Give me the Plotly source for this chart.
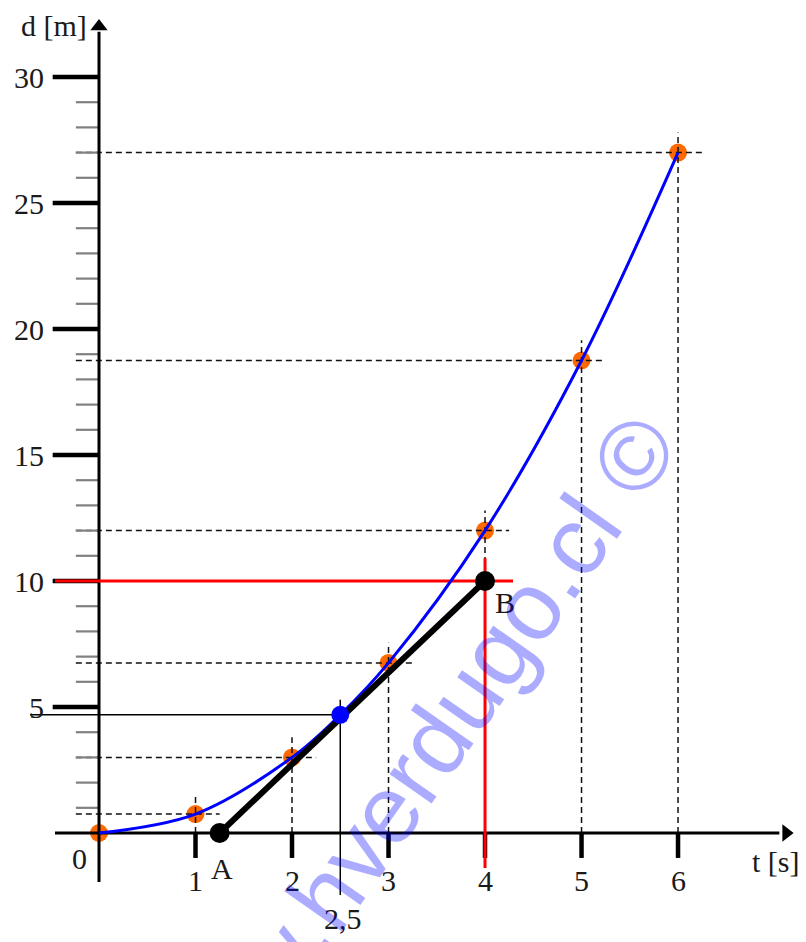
import plotly.graph_objects as go

# measured points of the curve d(t)
T_POINTS = [0, 1, 2, 3, 4, 5, 6]
D_POINTS = [0, 0.75, 3, 6.75, 12, 18.75, 27]

# point where the tangent touches the curve
T_MARK = 2.5
D_MARK = 4.69

# tangent segment A -> B
T_TANGENT = [1.25, 4]
D_TANGENT = [0, 10]
LABELS_TANGENT = ["A", "B"]

# red reading lines
T_RED = 4
D_RED = 10

# axis ticks
T_TICKS = [1, 2, 3, 4, 5, 6]
T_TICK_LABELS = ["1", "2", "3", "4", "5", "6"]
D_MINOR = list(range(1, 31))
D_MAJOR = [5, 10, 15, 20, 25, 30]
D_TICK_LABELS = ["5", "10", "15", "20", "25", "30"]

SERIF = "Liberation Serif, Times New Roman, serif"
TEXT_COLOR = "#1a1a1a"


def segments(pairs):
    xs, ys = [], []
    for (x0, y0, x1, y1) in pairs:
        xs += [x0, x1, None]
        ys += [y0, y1, None]
    return xs, ys


def line_trace(pairs, color, width, dash="solid"):
    xs, ys = segments(pairs)
    return go.Scatter(
        x=xs, y=ys, mode="lines",
        line={"color": color, "width": width, "dash": dash},
        hoverinfo="skip",
    )


fig = go.Figure()

# orange data points (below the dashed cross lines)
fig.add_trace(
    go.Scatter(
        x=T_POINTS, y=D_POINTS, mode="markers",
        marker={"color": "#ff6a00", "size": 18},
        hoverinfo="skip",
    )
)

# dashed reading lines for every point except the origin
dash_h = [(-0.24, d, t + 0.25, d) for t, d in zip(T_POINTS[1:], D_POINTS[1:])]
dash_v = [(t, 0, t, d + 0.8) for t, d in zip(T_POINTS[1:], D_POINTS[1:])]
fig.add_trace(line_trace(dash_h + dash_v, "#111111", 1.5, "6px,4px"))

# y ticks
fig.add_trace(line_trace([(-0.24, d, 0, d) for d in D_MINOR], "#808080", 2.2))
fig.add_trace(line_trace([(-0.48, d, 0, d) for d in D_MAJOR], "#000000", 4.5))
# x ticks
fig.add_trace(line_trace([(t, 0, t, -0.99) for t in T_TICKS], "#000000", 4.5))

# axes
fig.add_trace(line_trace([(-0.456, 0, 7.05, 0), (0, -1.94, 0, 31.8)], "#000000", 3))
fig.add_trace(
    go.Scatter(
        x=[7.12, 0], y=[0, 32.0], mode="markers",
        marker={"symbol": ["triangle-right", "triangle-up"], "color": "#000000", "size": 15},
        hoverinfo="skip",
    )
)

# thin lines marking the tangent point
fig.add_trace(
    line_trace([(-0.715, D_MARK, T_MARK, D_MARK), (T_MARK, -2.46, T_MARK, D_MARK + 0.6)],
               "#000000", 1.5)
)

# red lines at d = 10 and t = 4
fig.add_trace(
    line_trace([(-0.456, D_RED, T_RED + 0.29, D_RED), (T_RED, -1.39, T_RED, D_RED + 0.9)],
               "#ff0000", 3)
)

# blue curve through the measured points
curve_t = sorted(T_POINTS + [T_MARK])
curve_d = [dict(zip(T_POINTS + [T_MARK], D_POINTS + [D_MARK]))[t] for t in curve_t]
fig.add_trace(
    go.Scatter(
        x=curve_t, y=curve_d, mode="lines",
        line={"color": "#0000ff", "width": 3, "shape": "spline", "smoothing": 1.0},
        hoverinfo="skip",
    )
)

# tangent segment
fig.add_trace(
    go.Scatter(
        x=T_TANGENT, y=D_TANGENT, mode="lines+markers",
        line={"color": "#000000", "width": 6},
        marker={"color": "#000000", "size": 20},
        hoverinfo="skip",
    )
)

# tangent point
fig.add_trace(
    go.Scatter(
        x=[T_MARK], y=[D_MARK], mode="markers",
        marker={"color": "#0000ff", "size": 18},
        hoverinfo="skip",
    )
)

annotations = []


def label(text, x, y, xanchor="center"):
    annotations.append(
        dict(x=x, y=y, xref="x", yref="y", text=text, showarrow=False,
             xanchor=xanchor, yanchor="middle",
             font={"family": SERIF, "size": 30, "color": TEXT_COLOR})
    )


for d, txt in zip(D_MAJOR, D_TICK_LABELS):
    label(txt, -0.55, d, xanchor="right")
for t, txt in zip(T_TICKS, T_TICK_LABELS):
    label(txt, t, -1.9)
label("0", -0.2, -1.0)
label("2,5", T_MARK + 0.03, -3.4)
label(LABELS_TANGENT[0], T_TANGENT[0] + 0.02, -1.4)
label(LABELS_TANGENT[1], T_TANGENT[1] + 0.21, D_TANGENT[1] - 0.85)
label("d [m]", -0.47, 32.06)
label("t [s]", 7.02, -1.15)

# watermark
annotations.append(
    dict(x=3.285, y=2.58, xref="x", yref="y", text="www.hverdugo.cl ©",
         showarrow=False, textangle=-55,
         font={"family": "Liberation Sans, Arial, sans-serif", "size": 97,
               "color": "rgba(0,0,255,0.33)"})
)

# the page body adds an 8px offset, so the figure is 8px smaller
# and the ranges are chosen to line up with the window
fig.update_layout(
    width=798,
    height=934,
    margin={"l": 0, "r": 0, "t": 0, "b": 0},
    paper_bgcolor="white",
    plot_bgcolor="white",
    showlegend=False,
    xaxis={"range": [-0.943, 7.326], "visible": False, "fixedrange": True},
    yaxis={"range": [-4.325, 32.738], "visible": False, "fixedrange": True},
    annotations=annotations,
)

fig.write_html("out.html")
